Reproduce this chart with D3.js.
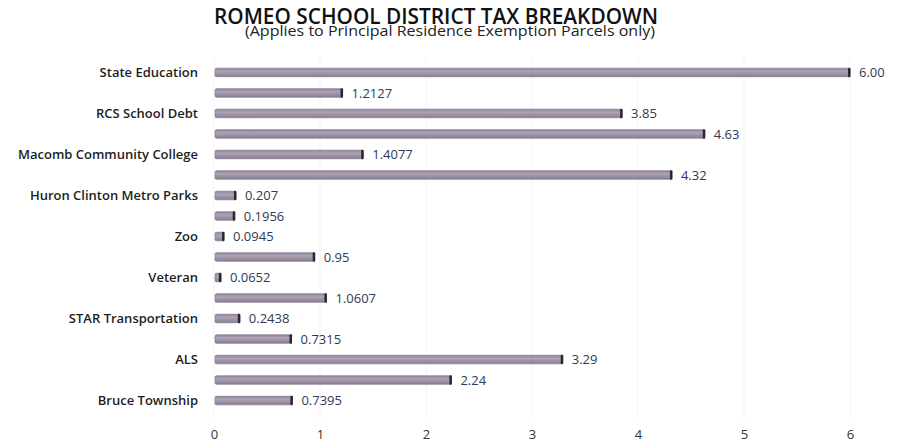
<!DOCTYPE html>
<html>
<head>
<meta charset="utf-8">
<script src="https://cdn.jsdelivr.net/npm/d3@7"></script>
<style>
  html, body { margin: 0; padding: 0; background: #fff; }
  svg { display: block; }
</style>
</head>
<body>
<svg id="chart" width="901" height="446"></svg>
<script>
// ---- data ----
const title = "ROMEO SCHOOL DISTRICT TAX BREAKDOWN";
const subtitle = "(Applies to Principal Residence Exemption Parcels only)";
// category labels shown on the axis (every other row label is not shown in the original)
const categories = [
  "State Education", "", "RCS School Debt", "", "Macomb Community College", "",
  "Huron Clinton Metro Parks", "", "Zoo", "", "Veteran", "",
  "STAR Transportation", "", "ALS", "", "Bruce Township"
];
const values = [6.00, 1.2127, 3.85, 4.63, 1.4077, 4.32, 0.207, 0.1956, 0.0945, 0.95,
                0.0652, 1.0607, 0.2438, 0.7315, 3.29, 2.24, 0.7395];
const valueLabels = ["6.00", "1.2127", "3.85", "4.63", "1.4077", "4.32", "0.207", "0.1956",
                     "0.0945", "0.95", "0.0652", "1.0607", "0.2438", "0.7315", "3.29", "2.24", "0.7395"];
const xTicks = [0, 1, 2, 3, 4, 5, 6];

// ---- layout ----
const svg = d3.select("#chart");
const x = d3.scaleLinear().domain([0, 6]).range([214, 850]);
const y = d3.scaleBand().domain(d3.range(values.length)).range([62, 411]).paddingInner(0.58).paddingOuter(0.3);

const defs = svg.append("defs");
const grad = defs.append("linearGradient").attr("id", "barGrad").attr("x1", 0).attr("y1", 0).attr("x2", 0).attr("y2", 1);
grad.append("stop").attr("offset", "0%").attr("stop-color", "#8c8196");
grad.append("stop").attr("offset", "35%").attr("stop-color", "#aea3b6");
grad.append("stop").attr("offset", "100%").attr("stop-color", "#887d91");

// gridlines
svg.append("g")
  .selectAll("line")
  .data(xTicks)
  .join("line")
  .attr("x1", d => x(d)).attr("x2", d => x(d))
  .attr("y1", 58).attr("y2", 418)
  .attr("stroke", "#f3f3f3").attr("stroke-width", 1);

// x axis
const xAxis = d3.axisBottom(x).tickValues(xTicks).tickFormat(d3.format("d")).tickSize(0).tickPadding(0);
const gx = svg.append("g").attr("transform", "translate(0,430)").call(xAxis);
gx.select(".domain").remove();
gx.selectAll("text").attr("font-family", "'Open Sans', sans-serif").attr("font-size", 13).attr("fill", "#333");

// y axis
const yAxis = d3.axisLeft(y).tickFormat(i => categories[i]).tickSize(0).tickPadding(0);
const gy = svg.append("g").attr("transform", "translate(198,0)").call(yAxis);
gy.select(".domain").remove();
gy.selectAll("text").attr("font-family", "'Open Sans', sans-serif").attr("font-size", 13)
  .attr("font-weight", 600).attr("fill", "#1e1e1e");

// bars
const bars = svg.append("g").selectAll("g").data(values).join("g");
bars.append("rect")
  .attr("x", x(0) + 1)
  .attr("y", (d, i) => y(i))
  .attr("width", d => Math.max(x(d) - x(0) - 1, 2))
  .attr("height", y.bandwidth())
  .attr("rx", 1.5)
  .attr("fill", "url(#barGrad)")
  .attr("stroke", "#7a6f84").attr("stroke-width", 0.6);
bars.append("rect")
  .attr("x", d => x(d) - 2)
  .attr("y", (d, i) => y(i) - 0.5)
  .attr("width", 2.5)
  .attr("height", y.bandwidth() + 1)
  .attr("rx", 1)
  .attr("fill", "#2b2730");

// value labels
svg.append("g").selectAll("text").data(values).join("text")
  .attr("x", d => x(d) + 9)
  .attr("y", (d, i) => y(i) + y.bandwidth() / 2)
  .attr("dy", "0.38em")
  .attr("font-family", "'Open Sans', sans-serif")
  .attr("font-size", 13)
  .attr("fill", "#2e3a56")
  .text((d, i) => valueLabels[i]);

// titles
svg.append("text")
  .attr("x", 436).attr("y", 24)
  .attr("text-anchor", "middle")
  .attr("font-family", "'Open Sans', sans-serif")
  .attr("font-size", 21).attr("font-weight", 600).attr("fill", "#111")
  .attr("textLength", 444).attr("lengthAdjust", "spacingAndGlyphs")
  .text(title);
svg.append("text")
  .attr("x", 450).attr("y", 36)
  .attr("text-anchor", "middle")
  .attr("font-family", "'Open Sans', sans-serif")
  .attr("font-size", 15).attr("fill", "#222")
  .attr("textLength", 410).attr("lengthAdjust", "spacingAndGlyphs")
  .text(subtitle);
</script>
</body>
</html>
